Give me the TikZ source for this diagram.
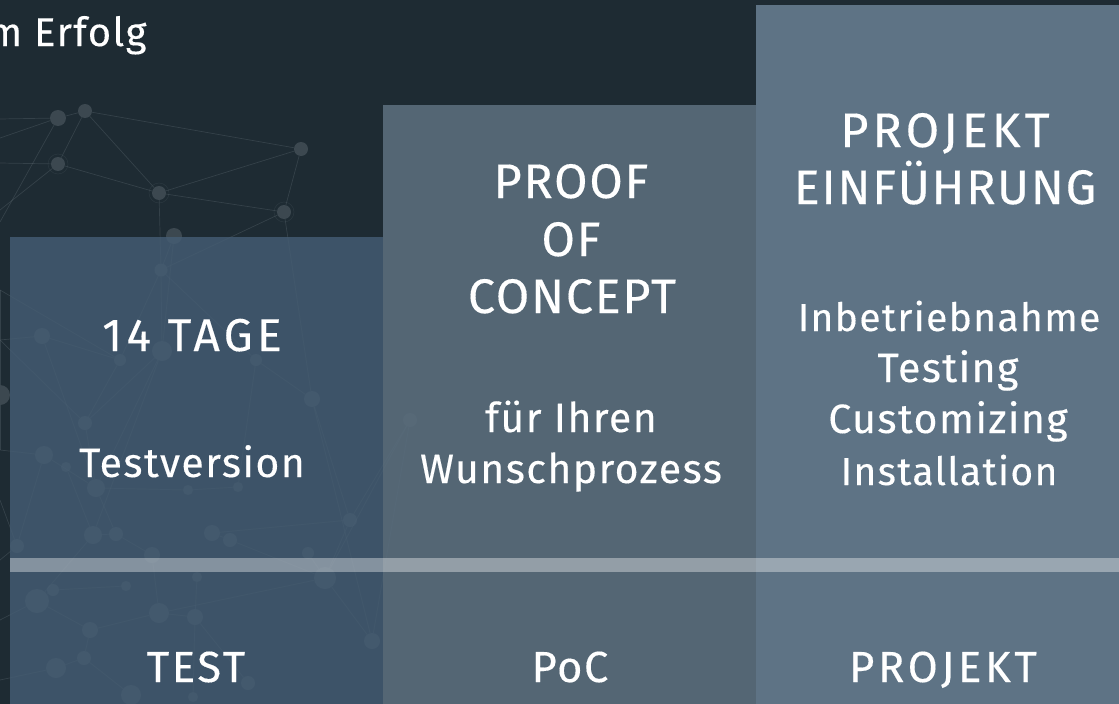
\documentclass[tikz,border=0pt]{standalone}
\usepackage{fontspec}
\setmainfont{Fira Sans}[LetterSpace=3.5,FakeBold=0.25]
\definecolor{bgc}{HTML}{1E2B33}
\definecolor{netc}{HTML}{5A666D}
\definecolor{cola}{HTML}{455D74}
\definecolor{colb}{HTML}{5A6D7C}
\definecolor{colc}{HTML}{5E7385}
\newcommand{\spaced}[1]{\addfontfeature{LetterSpace=#1}}
\tikzset{
 big/.style={anchor=base,text=white,font=\fontsize{48.5}{48.5}\selectfont},
 mid/.style={anchor=base,text=white,font=\fontsize{41}{41}\selectfont},
 small/.style={anchor=base,text=white,font=\fontsize{39}{39}\selectfont},
 capt/.style={anchor=base,text=white,font=\fontsize{43.5}{43.5}\selectfont},
 dot/.style={circle,fill=netc,fill opacity=.5,inner sep=0pt,minimum size=#1},
 lnk/.style={draw=netc,draw opacity=.38,line width=.7pt},
 panel/.style={draw=none,fill opacity=#1}
}
\begin{document}
\begin{tikzpicture}[x=1pt,y=-1pt]
\useasboundingbox (0,0) rectangle (1119,704);
\fill[bgc] (0,0) rectangle (1119,704);
% network
\foreach \n/\x/\y/\d in {a/58/118/16,b/85/111/14,c/58/164/14,d/159/193/14,e/301/149/14,f/284/212/14,g/174/236/16,h/161/270/13,
 i/42/336/16,j/162/351/20,k/120/360/12,l/256/360/12,m/85/423/14,n/312/399/16,o/44/455/18,p/66/467/10,q/96/488/18,r/188/490/10,s/238/487/10,t/116/534/14,u/93/535/18,v/212/533/16,w/230/540/14,x/350/520/14,y/17/546/14,z/152/555/16,
 aa/308/553/12,ab/325/578/22,ac/37/601/24,ad/53/590/12,ae/126/586/10,af/197/577/10,ag/159/613/20,ah/195/617/16,ai/90/630/16,aj/84/658/14,ak/56/668/20,al/372/641/16,am/131/695/20,an/248/683/14,ao/193/697/10,ap/410/420/14,aq/0/395/20}
 {\node[dot=\d pt] (\n) at (\x,\y) {};}
\coordinate (w1) at (0,119); \coordinate (w2) at (0,138); \coordinate (w3) at (0,163); \coordinate (w4) at (0,210); \coordinate (w5) at (0,222);
\coordinate (w6) at (0,290); \coordinate (w7) at (0,340); \coordinate (w8) at (0,450); \coordinate (w9) at (0,500); \coordinate (w10) at (0,560); \coordinate (w11) at (0,620); \coordinate (w12) at (0,680);
\foreach \p/\q in {a/b,b/e,b/d,b/c,c/d,d/e,d/f,e/f,d/h,g/h,f/h,a/w1,a/w2,c/w3,c/w4,a/w5,f/n,h/k,h/l,h/j,g/j,k/w6,k/m,j/m,j/q,j/u,l/n,l/s,n/x,n/al,m/q,m/w7,i/w7,i/k,i/q,o/w8,o/q,p/u,q/r,q/t,r/s,t/u,t/z,u/ac,v/w,v/x,w/ab,x/ab,x/ap,ap/al,ap/ab,aa/ab,ab/ag,ag/ah,ag/z,ag/ai,ah/af,ah/ao,ai/aj,aj/ak,ai/ac,ac/ad,ad/ae,y/w9,y/w10,ac/w11,ak/w12,al/ab,am/aj,an/ah,y/o,aq/w8,aq/w6}
 {\path[lnk] (\p) -- (\q);}
\draw[netc,draw opacity=.22,line width=.5pt] (c) circle (10) (d) circle (10) (f) circle (10);
% panels
\fill[cola,panel=.82] (10,237) rectangle (383,704);
\fill[colb,panel=.9] (383,105) rectangle (756,704);
\fill[colc] (756,5) rectangle (1119,704);
\fill[white,fill opacity=.37] (10,558) rectangle (1119,572);
% text
\begin{scope}
\clip (0,0) rectangle (1119,704);
\node[anchor=base east,text=white,font=\fontsize{40}{40}\selectfont] (head) at (150,46) {m Erfolg};
\end{scope}
\node[big,font=\fontsize{46}{46}\selectfont] (t1) at (192,351) {\spaced{9.5}14 TAGE};
\node[mid] (t2) at (192,477) {Testversion};
\node[capt] (t3) at (196,682) {\spaced{6}TEST};
\node[big] (p1) at (571,198) {PROOF};
\node[big] (p2) at (571,256) {OF};
\node[big] (p3) at (572,313) {CONCEPT};
\node[mid] (p4) at (571,432) {für Ihren};
\node[mid] (p5) at (571,483) {Wunschprozess};
\node[capt] (p6) at (570,682) {PoC};
\node[big] (q1) at (945,147) {\spaced{8.5}PROJEKT};
\node[big] (q2) at (945,204) {EINFÜHRUNG};
\node[small] (q3) at (949,331) {Inbetriebnahme};
\node[mid] (q4) at (948,382) {Testing};
\node[mid] (q5) at (948,433) {Customizing};
\node[small] (q6) at (949,485) {Installation};
\node[capt] (q7) at (943,682) {\spaced{8.5}PROJEKT};
\end{tikzpicture}
\end{document}
